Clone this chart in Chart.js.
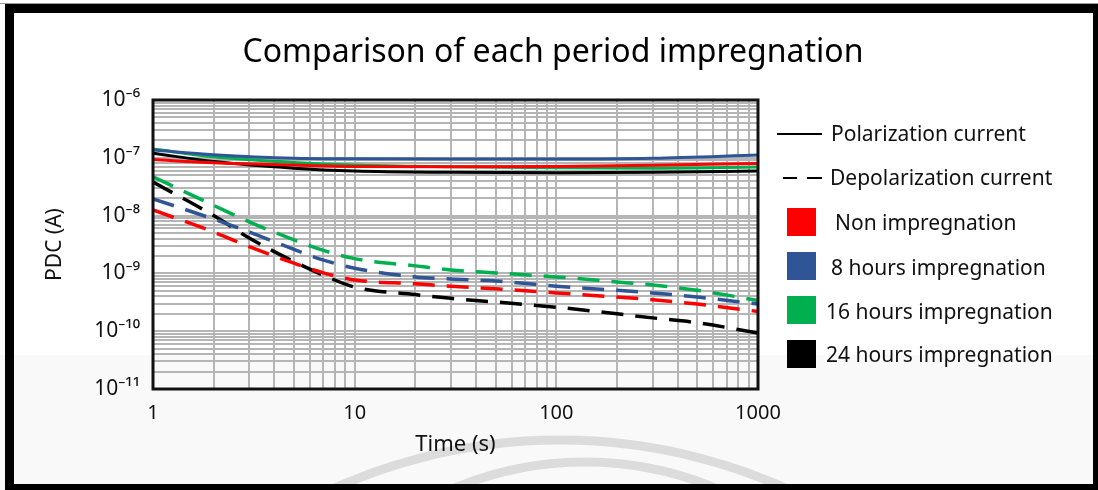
<!DOCTYPE html>
<html>
<head>
<meta charset="utf-8">
<title>Comparison of each period impregnation</title>
<script src="https://cdn.jsdelivr.net/npm/chart.js@4.4.1/dist/chart.umd.min.js"></script>
<style>
  html, body { margin: 0; padding: 0; background: #fff; }
  #frame { position: relative; width: 1098px; height: 490px; overflow: hidden; background: #fff;
           font-family: "Noto Sans", "DejaVu Sans", sans-serif; color: #111; }
  #lowband { position: absolute; left: 0; top: 355px; width: 1098px; height: 135px; background: #f9f9f9; }
  #chartBox { position: absolute; left: 0; top: 0; width: 1098px; height: 490px; }
  #chartTitle { position: absolute; left: 0; top: 30px; width: 1106px; height: 40px; line-height: 40px;
                text-align: center; font-size: 32px; color: #000; }
  .edge { position: absolute; background: #000; }
  .lg-text { position: absolute; height: 30px; line-height: 30px; font-size: 21px; white-space: nowrap; color: #111; }
  .lg-line { position: absolute; height: 2px; background: #000; }
  .lg-box { position: absolute; width: 29px; height: 28px; }
</style>
</head>
<body>
<div id="frame">
  <div id="lowband"></div>
  <div id="chartBox"><canvas id="pdcChart"></canvas></div>
  <div id="chartTitle">Comparison of each period impregnation</div>
  <div id="legend"></div>
  <div class="edge" style="left:0;top:3px;width:1098px;height:1px;background:#999"></div>
  <div class="edge" style="left:5px;top:4px;width:1093px;height:9px"></div>
  <div class="edge" style="left:5px;top:4px;width:9px;height:486px"></div>
  <div class="edge" style="left:1093px;top:4px;width:5px;height:486px"></div>
  <div class="edge" style="left:5px;top:484px;width:1093px;height:6px"></div>
</div>
<script>
// pdc chart - polarization / depolarization current for each impregnation period

const seriesNames = ["Non impregnation", "8 hours impregnation", "16 hours impregnation", "24 hours impregnation"];
const seriesColors = ["#ff0000", "#2f5597", "#00b050", "#000000"];

// polarization current (solid lines), A
const polTime = [1, 2, 5, 10, 30, 100, 300, 1000];
const polNon = [9.3e-8, 8.2e-8, 7.5e-8, 7.1e-8, 7.0e-8, 7.1e-8, 7.4e-8, 8.0e-8];
const pol8h = [1.36e-7, 1.13e-7, 9.8e-8, 9.6e-8, 9.5e-8, 9.5e-8, 9.8e-8, 1.12e-7];
const pol16h = [1.42e-7, 1.04e-7, 8.3e-8, 7.5e-8, 7.0e-8, 6.7e-8, 6.6e-8, 6.9e-8];
const pol24h = [1.2e-7, 8.6e-8, 6.6e-8, 5.9e-8, 5.6e-8, 5.5e-8, 5.6e-8, 5.9e-8];

// depolarization current (dashed lines), A
const depTime = [1, 2, 3, 5, 7, 10, 20, 30, 50, 100, 200, 300, 500, 1000];
const depNon = [1.25e-8, 5.2e-9, 2.9e-9, 1.5e-9, 1.02e-9, 7.7e-10, 6.6e-10, 6.0e-10, 5.4e-10, 4.6e-10, 3.9e-10, 3.5e-10, 2.95e-10, 2.2e-10];
const dep8h = [1.95e-8, 8.7e-9, 5.2e-9, 2.6e-9, 1.7e-9, 1.23e-9, 8.7e-10, 8.0e-10, 7.4e-10, 6.0e-10, 5.1e-10, 4.6e-10, 3.9e-10, 2.95e-10];
const dep16h = [4.7e-8, 1.5e-8, 7.8e-9, 3.8e-9, 2.5e-9, 1.8e-9, 1.35e-9, 1.15e-9, 1.02e-9, 8.7e-10, 7.1e-10, 6.3e-10, 5.1e-10, 3.4e-10];
const dep24h = [3.8e-8, 1.0e-8, 4.1e-9, 1.6e-9, 9.3e-10, 5.8e-10, 4.3e-10, 3.7e-10, 3.2e-10, 2.6e-10, 2.0e-10, 1.7e-10, 1.4e-10, 9.3e-11];

// tick labels
const xTickLabels = [1, 10, 100, 1000];
const yTickExponents = [-11, -10, -9, -8, -7, -6];

const polSeries = [polNon, pol8h, pol16h, pol24h];
const depSeries = [depNon, dep8h, dep16h, dep24h];

const SUP = { "-": "\u207B", "0": "\u2070", "1": "\u00B9", "2": "\u00B2", "3": "\u00B3",
              "4": "\u2074", "5": "\u2075", "6": "\u2076", "7": "\u2077", "8": "\u2078", "9": "\u2079" };

function sup(n) {
  return String(n).split("").map(c => SUP[c]).join("");
}

function isDecade(v) {
  const l = Math.log10(v);
  return Math.abs(l - Math.round(l)) < 1e-6;
}

// 1..9 per decade for the log grid
function decadeTicks(majors) {
  const out = [];
  for (let i = 0; i < majors.length - 1; i++) {
    for (let k = 1; k <= 9; k++) out.push(k * majors[i]);
  }
  out.push(majors[majors.length - 1]);
  return out;
}

const xGrid = decadeTicks(xTickLabels);
const yGrid = decadeTicks(yTickExponents.map(e => Math.pow(10, e)));

function makeSet(name, color, times, values, dashed) {
  return {
    label: name + (dashed ? " - depolarization" : " - polarization"),
    data: times.map((t, i) => ({ x: t, y: values[i] })),
    borderColor: color,
    backgroundColor: color,
    borderWidth: dashed ? 3.5 : 3,
    borderDash: dashed ? [22, 12] : [],
    pointRadius: 0,
    showLine: true,
    fill: false,
    cubicInterpolationMode: "monotone"
  };
}

const datasets = [];
seriesNames.forEach((name, i) => datasets.push(makeSet(name, seriesColors[i], polTime, polSeries[i], false)));
seriesNames.forEach((name, i) => datasets.push(makeSet(name, seriesColors[i], depTime, depSeries[i], true)));

// watermark arcs behind + black frame round the plot
const decorations = {
  id: "decorations",
  beforeDraw(chart) {
    const ctx = chart.ctx;
    ctx.save();
    ctx.strokeStyle = "#dcdcdc";
    ctx.lineWidth = 9;
    ctx.beginPath();
    ctx.arc(560, 994, 554, Math.PI * 1.5 - 0.5, Math.PI * 1.5 + 0.5);
    ctx.stroke();
    ctx.beginPath();
    ctx.arc(585, 801, 339, Math.PI * 1.5 - 0.46, Math.PI * 1.5 + 0.46);
    ctx.stroke();
    ctx.restore();
  },
  afterDatasetsDraw(chart) {
    const { ctx, chartArea: a } = chart;
    ctx.save();
    ctx.strokeStyle = "#111";
    ctx.lineWidth = 3;
    ctx.strokeRect(a.left, a.top, a.right - a.left, a.bottom - a.top);
    ctx.restore();
  }
};

const gridStyle = { color: "#b5b5b5", lineWidth: 2, drawTicks: false };

new Chart(document.getElementById("pdcChart"), {
  type: "scatter",
  data: { datasets },
  options: {
    responsive: true,
    maintainAspectRatio: false,
    animation: false,
    layout: { padding: { left: 0, right: 340, top: 100, bottom: 0 } },
    plugins: {
      legend: { display: false },
      title: { display: false },
      tooltip: { enabled: false }
    },
    scales: {
      x: {
        type: "logarithmic",
        min: 1,
        max: 1000,
        afterBuildTicks: s => { s.ticks = xGrid.map(v => ({ value: v })); },
        afterFit: s => { s.height = 101; },
        ticks: {
          autoSkip: false,
          maxRotation: 0,
          padding: 12,
          color: "#111",
          font: { family: "Noto Sans", size: 20 },
          callback: v => isDecade(v) ? String(Math.round(v)) : ""
        },
        grid: gridStyle,
        border: { display: false },
        title: {
          display: true,
          text: "Time (s)",
          color: "#111",
          font: { family: "Noto Sans", size: 22 },
          padding: { top: 0, bottom: 32 }
        }
      },
      y: {
        type: "logarithmic",
        min: Math.pow(10, yTickExponents[0]),
        max: Math.pow(10, yTickExponents[yTickExponents.length - 1]),
        afterBuildTicks: s => { s.ticks = yGrid.map(v => ({ value: v })); },
        afterFit: s => { s.width = 153; },
        ticks: {
          autoSkip: false,
          padding: 13,
          color: "#111",
          font: { family: "Noto Sans", size: 21 },
          callback: v => isDecade(v) ? "10" + sup(Math.round(Math.log10(v))) : ""
        },
        grid: gridStyle,
        border: { display: false },
        title: {
          display: true,
          text: "PDC (A)",
          color: "#111",
          font: { family: "Noto Sans", size: 21 },
          padding: { top: 42, bottom: 0 }
        }
      }
    }
  },
  plugins: [decorations]
});

// legend: line styles first, then one colour box per period
const legendBox = document.getElementById("legend");
const boxTops = [208, 252, 296, 340];
const textLefts = [835, 831, 826, 826];
const textCenters = [223, 268, 312, 355];

let legendHtml = `
  <div class="lg-line" style="left:777px;top:133px;width:45px"></div>
  <div class="lg-text" style="left:831px;top:118px">Polarization current</div>
  <div class="lg-line" style="left:783px;top:177px;width:14px"></div>
  <div class="lg-line" style="left:807px;top:177px;width:15px"></div>
  <div class="lg-text" style="left:830px;top:162px">Depolarization current</div>
`;
seriesNames.forEach((name, i) => {
  legendHtml += `
    <div class="lg-box" style="left:787px;top:${boxTops[i]}px;background:${seriesColors[i]}"></div>
    <div class="lg-text" style="left:${textLefts[i]}px;top:${textCenters[i] - 16}px">${name}</div>
  `;
});
legendBox.innerHTML = legendHtml;
</script>
</body>
</html>
